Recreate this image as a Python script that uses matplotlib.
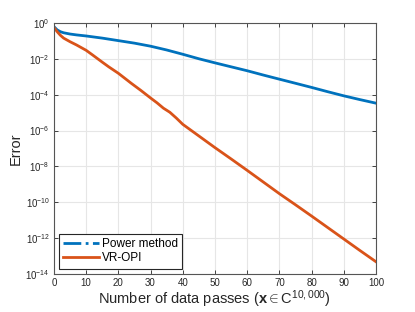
import matplotlib
matplotlib.use("Agg")
import matplotlib.pyplot as plt
from matplotlib.lines import Line2D

plt.rcParams['font.family'] = ['Liberation Sans', 'DejaVu Sans']
plt.rcParams['mathtext.fontset'] = 'custom'
plt.rcParams['mathtext.rm'] = 'Liberation Sans'
plt.rcParams['mathtext.bf'] = 'Liberation Sans:bold'
plt.rcParams['mathtext.it'] = 'Liberation Sans:italic'

# data
power_x = [0, 1, 2, 3, 5, 7, 10, 15, 20, 25, 30, 35, 40, 45, 50, 55, 60, 65, 70, 75, 80, 85, 90, 95, 100]
power_err = [0.631, 0.417, 0.331, 0.288, 0.245, 0.219, 0.191, 0.145, 0.105, 0.0759, 0.0513, 0.0316,
             0.0182, 0.0102, 6.03e-3, 3.63e-3, 2.19e-3, 1.26e-3, 7.41e-4, 4.37e-4, 2.57e-4,
             1.48e-4, 8.71e-5, 5.37e-5, 3.39e-5]
vr_x = [0, 1, 2, 3, 5, 7, 10, 12, 15, 17, 20, 22, 24, 27, 30, 32, 34, 36, 37, 38, 40,
        45, 50, 55, 60, 65, 70, 75, 80, 85, 90, 95, 100]
vr_err = [0.575, 0.331, 0.209, 0.145, 0.0912, 0.0603, 0.0302, 0.0166, 6.61e-3, 3.63e-3, 1.58e-3,
          8.32e-4, 4.37e-4, 1.74e-4, 6.61e-5, 3.55e-5, 1.78e-5, 1.05e-5, 7.24e-6, 5.01e-6,
          2.24e-6, 5.01e-7, 1.12e-7, 2.63e-8, 6.03e-9, 1.35e-9, 3.02e-10, 7.24e-11, 1.70e-11,
          3.89e-12, 8.91e-13, 2.04e-13, 4.79e-14]
labels = ['Power method', 'VR-OPI']
xticks = [0, 10, 20, 30, 40, 50, 60, 70, 80, 90, 100]
yticks = [1e0, 1e-2, 1e-4, 1e-6, 1e-8, 1e-10, 1e-12, 1e-14]

blue = '#0072BD'
orange = '#D95319'

fig = plt.figure(figsize=(4.15, 3.12), dpi=100)
ax = fig.add_axes([0.130, 0.122, 0.776, 0.804])

ax.plot(power_x, power_err, color=blue, lw=2.0, solid_joinstyle='round')
ax.plot(vr_x, vr_err, color=orange, lw=2.0, solid_joinstyle='round')

ax.set_yscale('log')
ax.set_xlim(0, 100)
ax.set_ylim(1e-14, 1e0)
ax.set_xticks(xticks)
ax.set_yticks(yticks)
ax.minorticks_off()
ax.grid(True, color='#e6e6e6', lw=0.8)
ax.set_axisbelow(True)
ax.tick_params(direction='in', top=True, right=True, length=3, width=0.6,
               labelsize=7, colors='#262626', pad=3)
for s in ax.spines.values():
    s.set_color('#555555')
    s.set_linewidth(0.8)

ax.set_ylabel('Error', fontsize=10.5, color='#262626', labelpad=2)
ax.set_xlabel(r'Number of data passes ($\mathbf{x}$$\in$C$^{10,000}$)', fontsize=10.5,
              color='#262626', labelpad=0)

handles = [Line2D([0], [0], color=blue, lw=2.0, ls='-.'),
           Line2D([0], [0], color=orange, lw=2.0)]
leg = ax.legend(handles, labels, loc='lower left', fontsize=8.5, frameon=True, fancybox=False,
                edgecolor='#262626', framealpha=1, borderpad=0.35, labelspacing=0.2,
                handlelength=3.0, handletextpad=0.3, borderaxespad=0.45)
leg.get_frame().set_linewidth(0.8)

fig.savefig('out.png', dpi=100)
